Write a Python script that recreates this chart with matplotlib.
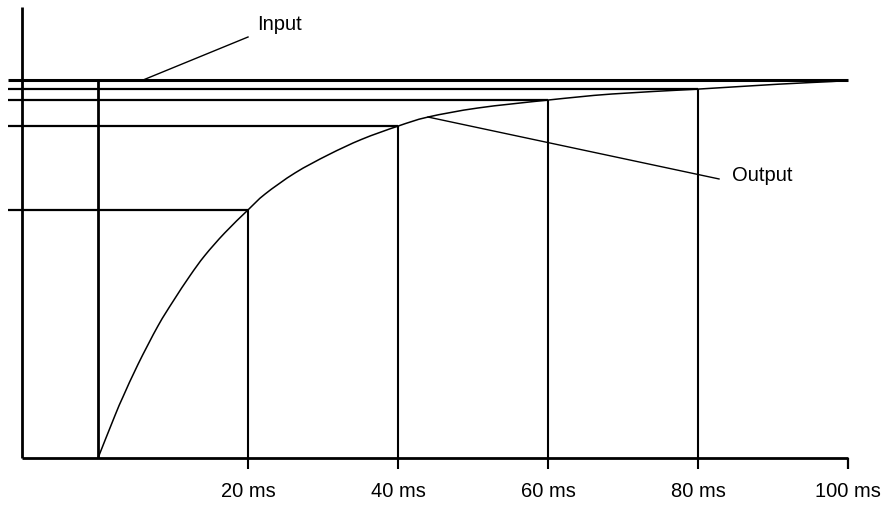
import matplotlib
matplotlib.use("Agg")
import matplotlib.pyplot as plt
from matplotlib.path import Path
from matplotlib.patches import PathPatch
import numpy as np

plt.rcParams['font.family'] = ['Liberation Sans', 'DejaVu Sans']

# Step response: output level (% of input step) against time (ms)
time_ms = [0, 2.27, 3.33, 5.33, 8.0, 10.04, 12.27, 14.23, 16.89, 20,
           22.27, 26.27, 30.71, 35.16, 40, 44, 50.67, 60, 68.5, 80,
           90.7, 97.8, 100]
output_pct = [0, 11.3, 16.2, 24.8, 35.0, 41.6, 48.3, 53.6, 59.6, 65.7,
              69.9, 75.5, 80.3, 84.4, 87.9, 90.3, 92.7, 94.8, 96.4, 97.7,
              99.0, 99.7, 100]
input_pct = 100

# Sample instants marked with guide lines
mark_times = [20, 40, 60, 80]
tick_times = [20, 40, 60, 80, 100]
tick_labels = ["20 ms", "40 ms", "60 ms", "80 ms", "100 ms"]


def smooth_path(xs, ys):
    """Catmull-Rom spline through the points, expressed as cubic Beziers."""
    pts = np.column_stack([xs, ys]).astype(float)
    n = len(pts)
    verts = [pts[0]]
    codes = [Path.MOVETO]
    for i in range(n - 1):
        p0 = pts[max(i - 1, 0)]
        p1 = pts[i]
        p2 = pts[i + 1]
        p3 = pts[min(i + 2, n - 1)]
        c1 = p1 + (p2 - p0) / 6.0
        c2 = p2 - (p3 - p1) / 6.0
        verts += [c1, c2, p2]
        codes += [Path.CURVE4] * 3
    return Path(verts, codes)


fig = plt.figure(figsize=(8.85, 5.08), dpi=100)
ax = fig.add_axes([0, 0, 1, 1])
ax.set_xlim(-13.07, 104.93)
ax.set_ylim(-13.25, 121.3)
ax.axis('off')

k = dict(color='black', solid_capstyle='butt')
x_left = -12
y_axis_x = -10.1
tick_bottom = -2.9

# Axes
ax.plot([y_axis_x, y_axis_x], [0, 119.5], lw=2.0, **k)
ax.plot([y_axis_x, 100], [0, 0], lw=2.0, **k)
ax.plot([100, 100], [0, tick_bottom], lw=1.6, **k)

# Input step
ax.plot([0, 0], [0, input_pct], lw=2.0, **k)
ax.plot([x_left, 100], [input_pct, input_pct], lw=2.2, **k)

# Output curve
ax.add_patch(PathPatch(smooth_path(time_ms, output_pct), facecolor='none',
                       edgecolor='black', lw=1.1))

# Guide lines at each marked instant
for t in mark_times:
    level = np.interp(t, time_ms, output_pct)
    ax.plot([x_left, t], [level, level], lw=1.6, **k)
    ax.plot([t, t], [tick_bottom, level], lw=1.5, **k)

# Tick labels
for t, lab in zip(tick_times, tick_labels):
    ax.text(t, -8.8, lab, ha='center', va='center', fontsize=14.5)

# Annotations with leader lines
ax.plot([5.87, 20.0], [input_pct, 111.5], lw=1.0, color='black')
ax.text(21.2, 114.9, "Input", ha='left', va='center', fontsize=14.5)
ax.plot([44.0, 82.8], [np.interp(44.0, time_ms, output_pct), 73.9], lw=1.0, color='black')
ax.text(84.5, 74.7, "Output", ha='left', va='center', fontsize=14.5)

fig.savefig("out.png", dpi=100)
